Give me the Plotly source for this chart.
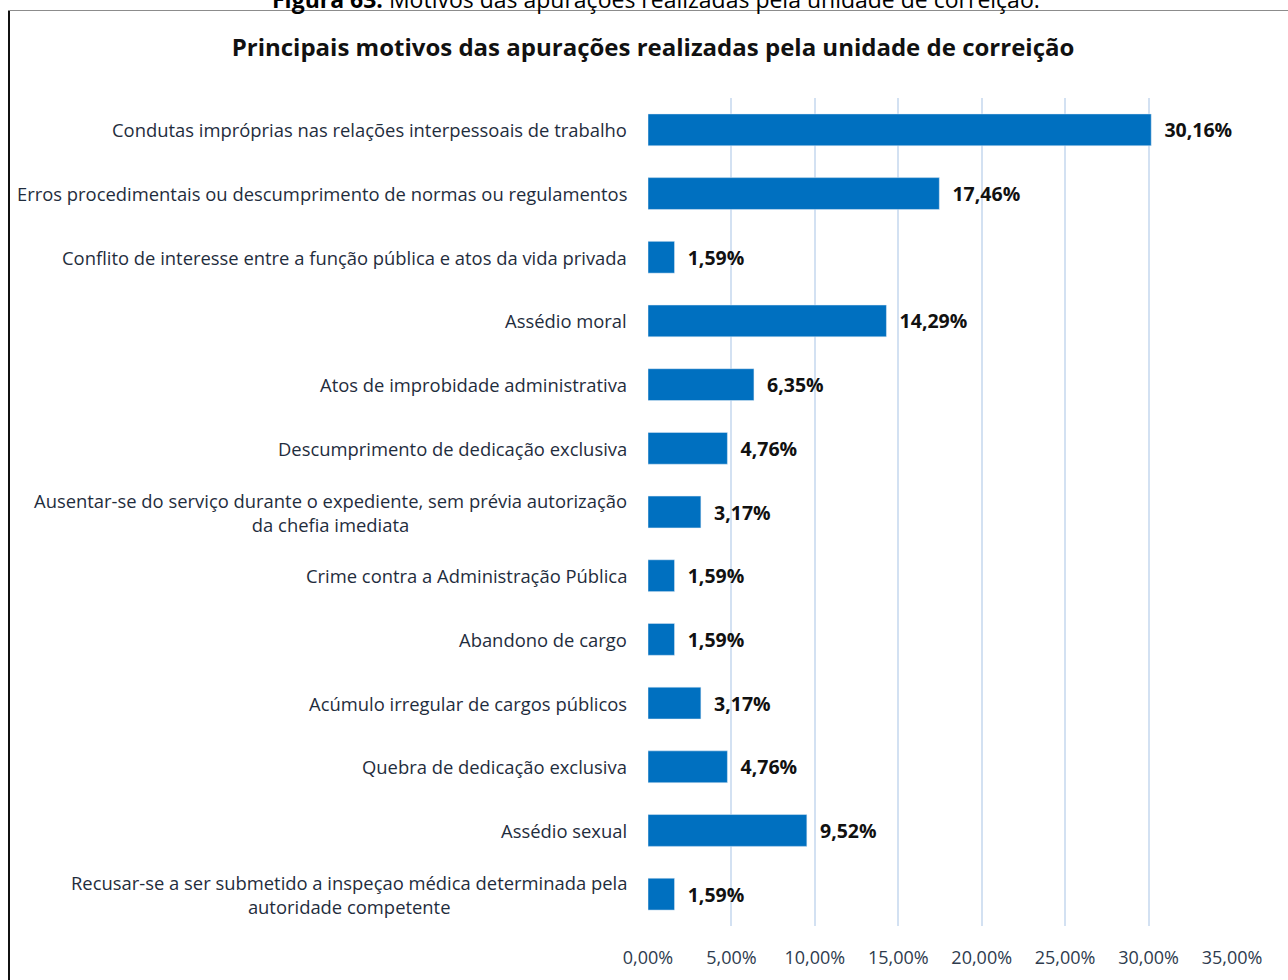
import plotly.graph_objects as go

# categories, top to bottom as in the chart
motivos = [
    "Condutas impróprias nas relações interpessoais de trabalho",
    "Erros procedimentais ou descumprimento de normas ou regulamentos",
    "Conflito de interesse entre a função pública e atos da vida privada",
    "Assédio moral",
    "Atos de improbidade administrativa",
    "Descumprimento de dedicação exclusiva",
    "Ausentar-se do serviço durante o expediente, sem prévia autorização<br>da chefia imediata",
    "Crime contra a Administração Pública",
    "Abandono de cargo",
    "Acúmulo irregular de cargos públicos",
    "Quebra de dedicação exclusiva",
    "Assédio sexual",
    "Recusar-se a ser submetido a inspeçao médica determinada pela<br>autoridade competente",
]
percentuais = [0.3016, 0.1746, 0.0159, 0.1429, 0.0635, 0.0476, 0.0317,
               0.0159, 0.0159, 0.0317, 0.0476, 0.0952, 0.0159]

titulo = "Principais motivos das apurações realizadas pela unidade de correição"
legenda_figura = "<b>Figura 63:</b> Motivos das apurações realizadas pela unidade de correição."

FONT = "Open Sans"
TXT = "#1f2d3d"

fig = go.Figure()
fig.add_trace(go.Bar(
    x=percentuais,
    y=list(range(len(motivos))),
    orientation="h",
    marker_color="#0070C0",
    width=0.5,
    texttemplate="\u00a0\u00a0<b>%{x:.2%}</b>",
    textposition="outside",
    textfont=dict(family=FONT, size=19.5, color="#111111"),
    cliponaxis=False,
    hoverinfo="skip",
))

#category labels as annotations so two-line labels stay centred
for i, m in enumerate(motivos):
    fig.add_annotation(
        x=0, y=i, xref="x", yref="y", text=m, showarrow=False,
        xanchor="right", align="center", xshift=-19,
        font=dict(family=FONT, size=18.4, color=TXT),
    )

#cut-off figure caption at the very top
fig.add_annotation(
    x=(656 - 648) / 584, y=1.0, xref="paper", yref="paper", yshift=99,
    text=legenda_figura, showarrow=False, xanchor="center", yanchor="middle",
    font=dict(family=FONT, size=23, color="#000000"),
)

#frame lines (left and top)
fig.add_shape(type="line", xref="paper", yref="paper",
              x0=(9 - 648) / 584, x1=(9 - 648) / 584,
              y0=(926 - 10) / 828, y1=(926 - 990) / 828,
              line=dict(color="#111111", width=2))
fig.add_shape(type="line", xref="paper", yref="paper",
              x0=(8 - 648) / 584, x1=(1300 - 648) / 584,
              y0=(926 - 10.5) / 828, y1=(926 - 10.5) / 828,
              line=dict(color="#8c8c8c", width=1))

fig.update_layout(
    width=1288, height=980,
    margin=dict(l=648, r=56, t=98, b=54),
    paper_bgcolor="white", plot_bgcolor="white",
    separators=",.",
    showlegend=False,
    title=dict(text="<b>" + titulo + "</b>", x=0.507, xanchor="center",
               y=1 - 48 / 980, yanchor="middle",
               font=dict(family=FONT, size=24, color="#111111")),
    xaxis=dict(range=[0, 0.35], dtick=0.05, tickformat=".2%",
               showgrid=True, gridcolor="#d3e1f2", gridwidth=2,
               zeroline=False, showline=False, ticks="",
               ticklabelstandoff=19,
               tickfont=dict(family=FONT, size=18, color="#2e3b4e")),
    yaxis=dict(range=[len(motivos) - 0.5, -0.5], showticklabels=False,
               showgrid=False, zeroline=False, showline=False, ticks=""),
)

fig.write_html("out.html", config={"displayModeBar": False},
               post_script="document.body.style.margin='0';")
